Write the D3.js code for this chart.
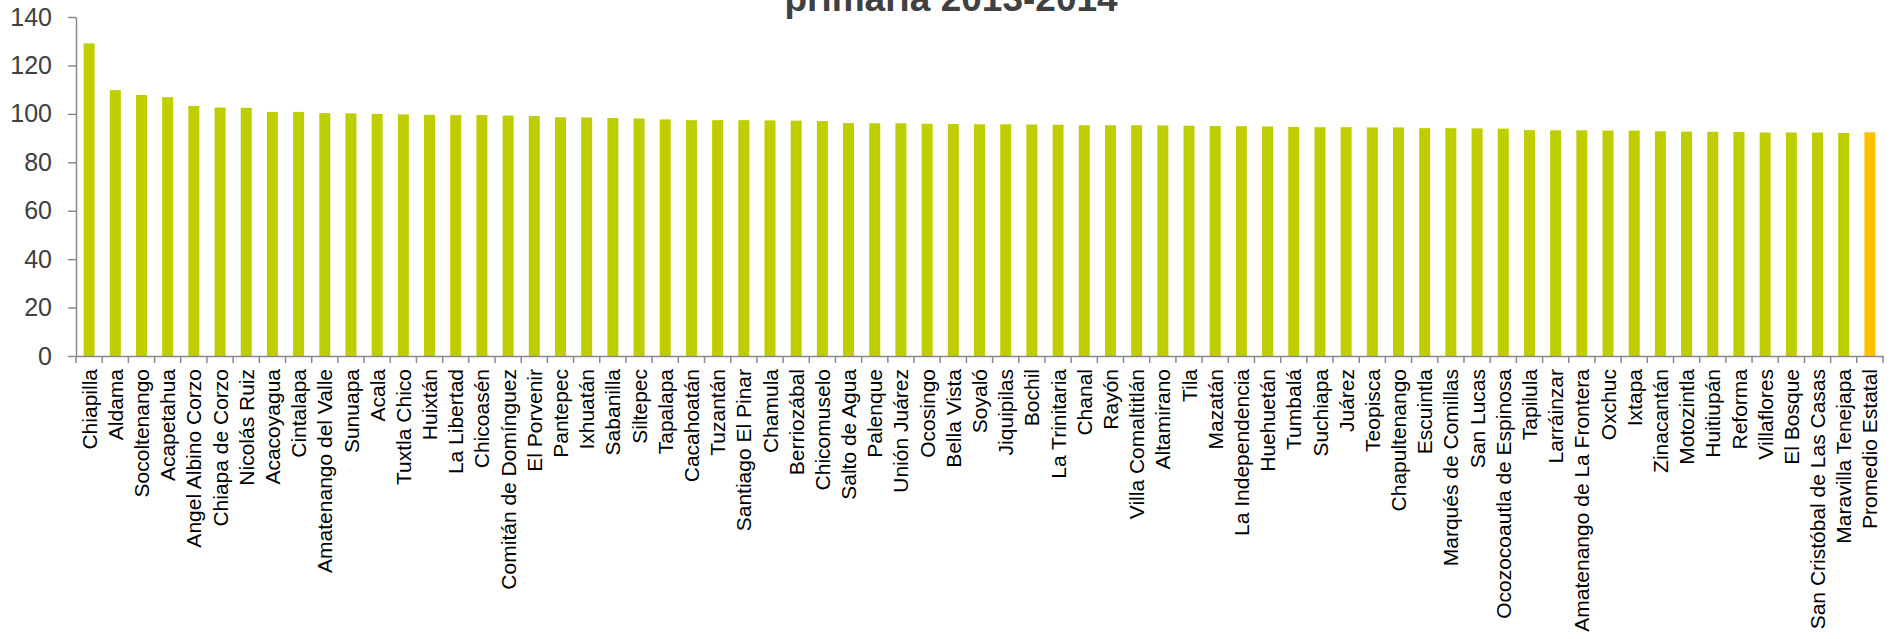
<!DOCTYPE html>
<html>
<head>
<meta charset="utf-8">
<script src="https://cdn.jsdelivr.net/npm/d3@7"></script>
<style>
  body { margin: 0; background: #fff; }
  svg { display: block; font-family: "Liberation Sans", Arial, sans-serif; }
</style>
</head>
<body>
<svg width="1893" height="639"></svg>
<script>
// municipios (ordered as in the chart)
var municipios = ["Chiapilla", "Aldama", "Socoltenango", "Acapetahua", "Angel Albino Corzo",
  "Chiapa de Corzo", "Nicolás Ruiz", "Acacoyagua", "Cintalapa", "Amatenango del Valle",
  "Sunuapa", "Acala", "Tuxtla Chico", "Huixtán", "La Libertad", "Chicoasén",
  "Comitán de Domínguez", "El Porvenir", "Pantepec", "Ixhuatán", "Sabanilla", "Siltepec",
  "Tapalapa", "Cacahoatán", "Tuzantán", "Santiago El Pinar", "Chamula", "Berriozábal",
  "Chicomuselo", "Salto de Agua", "Palenque", "Unión Juárez", "Ocosingo", "Bella Vista",
  "Soyaló", "Jiquipilas", "Bochil", "La Trinitaria", "Chanal", "Rayón", "Villa Comaltitlán",
  "Altamirano", "Tila", "Mazatán", "La Independencia", "Huehuetán", "Tumbalá", "Suchiapa",
  "Juárez", "Teopisca", "Chapultenango", "Escuintla", "Marqués de Comillas", "San Lucas",
  "Ocozocoautla de Espinosa", "Tapilula", "Larráinzar", "Amatenango de La Frontera",
  "Oxchuc", "Ixtapa", "Zinacantán", "Motozintla", "Huitiupán", "Reforma", "Villaflores",
  "El Bosque", "San Cristóbal de Las Casas", "Maravilla Tenejapa", "Promedio Estatal"];

var valores = [129.1, 109.8, 107.8, 106.9, 103.3, 102.6, 102.5, 100.8, 100.8, 100.3,
  100.2, 100.0, 99.8, 99.6, 99.5, 99.5, 99.3, 99.1, 98.6, 98.5, 98.3, 98.1,
  97.7, 97.4, 97.4, 97.4, 97.3, 97.2, 97.0, 96.2, 96.1, 96.1, 95.9, 95.8,
  95.7, 95.7, 95.6, 95.5, 95.3, 95.3, 95.3, 95.2, 95.1, 95.0, 94.9, 94.8, 94.6, 94.5,
  94.5, 94.4, 94.4, 94.1, 94.1, 94.0, 93.9, 93.3, 93.2, 93.2,
  93.1, 93.1, 92.8, 92.7, 92.6, 92.5, 92.3, 92.3, 92.3, 92.1, 92.4];

var yTicks = [0, 20, 40, 60, 80, 100, 120, 140];
var titulo = "primaria 2013-2014";
var promedio = "Promedio Estatal";

var data = municipios.map(function(m, i) { return { name: m, value: valores[i] }; });

var svg = d3.select("svg");
var plotLeft = 76, plotRight = 1883, plotTop = 17, plotBottom = 356;

var x = d3.scaleBand().domain(municipios).range([plotLeft, plotRight]).padding(0);
var y = d3.scaleLinear().domain([0, 140]).range([plotBottom, plotTop]);
var barW = x.bandwidth() * 0.42;

// title (second line of the original title, first one is off the top)
svg.append("text")
  .attr("x", 951)
  .attr("y", 11)
  .attr("text-anchor", "middle")
  .style("font-size", "37px")
  .style("font-weight", "bold")
  .style("fill", "#404040")
  .text(titulo);

// bars
svg.selectAll(".bar")
  .data(data)
  .enter()
  .append("rect")
  .attr("class", "bar")
  .attr("x", function(d) { return x(d.name) + (x.bandwidth() - barW) / 2; })
  .attr("y", function(d) { return y(d.value); })
  .attr("width", barW)
  .attr("height", function(d) { return y(0) - y(d.value); })
  .attr("fill", function(d) { return d.name === promedio ? "#FFC000" : "#BFCE00"; });

// y axis
var yAxis = svg.append("g")
  .attr("transform", "translate(" + plotLeft + ",0)")
  .call(d3.axisLeft(y).tickValues(yTicks).tickSize(8).tickSizeOuter(0).tickPadding(16));
yAxis.select(".domain").attr("stroke", "#898989").attr("stroke-width", 1.5);
yAxis.selectAll(".tick line").attr("stroke", "#898989").attr("stroke-width", 1.5);
yAxis.selectAll(".tick text")
  .style("font-size", "25px")
  .style("fill", "#404040")
  .style("font-family", "'Liberation Sans', Arial, sans-serif");

// x axis: labels at band centres, rotated
var xAxis = svg.append("g")
  .attr("transform", "translate(0," + plotBottom + ")")
  .call(d3.axisBottom(x).tickSize(0).tickSizeOuter(0));
xAxis.select(".domain").attr("stroke", "#898989").attr("stroke-width", 1.5);
xAxis.selectAll(".tick text")
  .attr("transform", "rotate(-90)")
  .attr("text-anchor", "end")
  .attr("x", -13)
  .attr("y", 0)
  .attr("dy", "0.36em")
  .style("font-size", "21px")
  .style("fill", "#000")
  .style("font-family", "'Liberation Sans', Arial, sans-serif");

// tick marks between categories (Excel style)
var bounds = municipios.map(function(m) { return x(m); }).concat([plotRight]);
svg.append("g").selectAll("line")
  .data(bounds)
  .enter()
  .append("line")
  .attr("x1", function(d) { return d; })
  .attr("x2", function(d) { return d; })
  .attr("y1", plotBottom)
  .attr("y2", plotBottom + 7)
  .attr("stroke", "#898989")
  .attr("stroke-width", 1.5);
</script>
</body>
</html>
